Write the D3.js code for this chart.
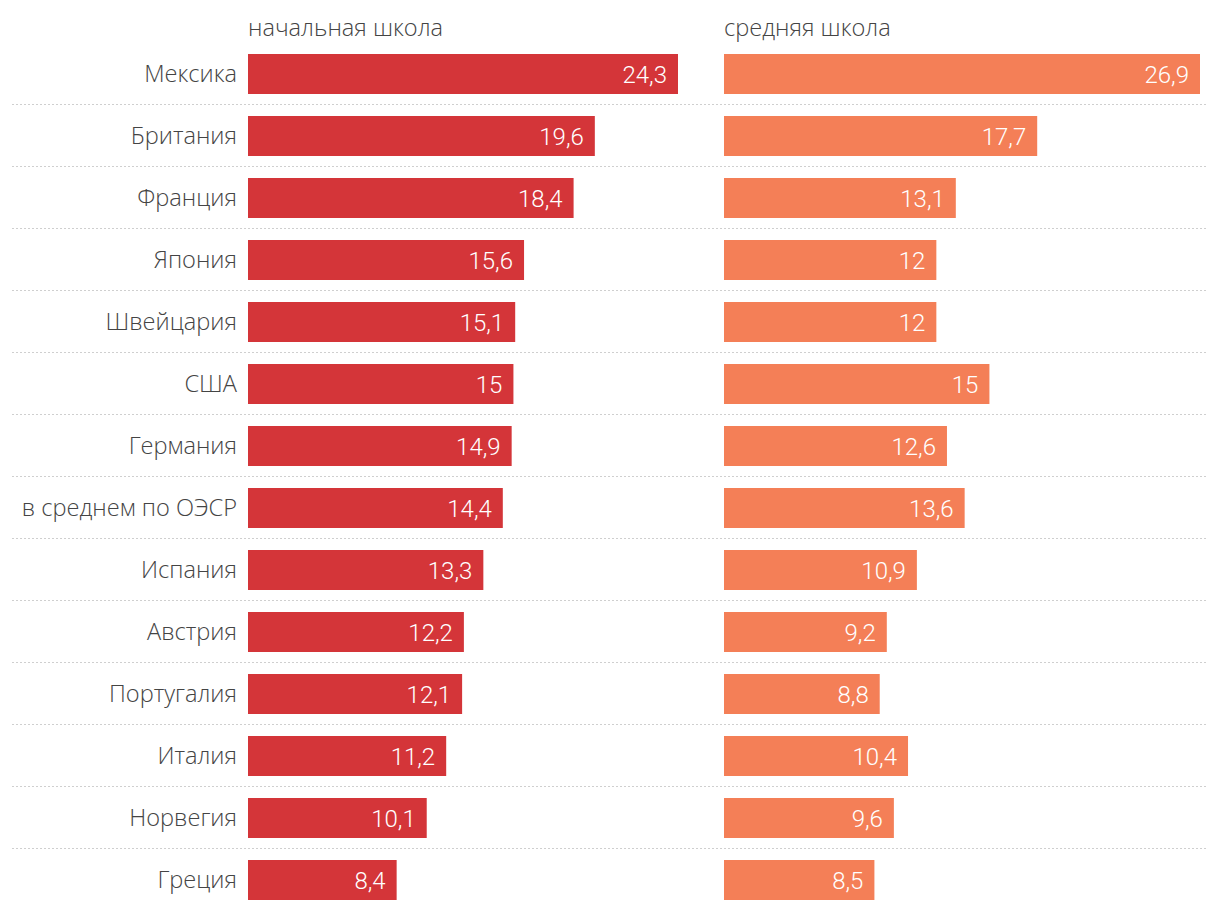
<!DOCTYPE html>
<html><head><meta charset="utf-8">
<script src="https://cdn.jsdelivr.net/npm/d3@7"></script>
<style>body{margin:0;background:#fff}</style>
</head><body>
<svg id="c" width="1220" height="910"></svg>
<script>
const countries = ["Мексика","Британия","Франция","Япония","Швейцария","США","Германия","в среднем по ОЭСР","Испания","Австрия","Португалия","Италия","Норвегия","Греция"];
const primary = [24.3,19.6,18.4,15.6,15.1,15,14.9,14.4,13.3,12.2,12.1,11.2,10.1,8.4];
const secondary = [26.9,17.7,13.1,12,12,15,12.6,13.6,10.9,9.2,8.8,10.4,9.6,8.5];
const seriesNames = ["начальная школа","средняя школа"];
const colors = ["#d43539","#f47f57"];

const svg = d3.select("#c");
const x = d3.scaleLinear().domain([0, 26.9]).range([0, 476]);
const y = d3.scaleBand().domain(countries).range([43, 911]).paddingInner(22/62).paddingOuter(11/62);
const panels = [{x0:248, vals:primary},{x0:724, vals:secondary}];
const fmt = v => String(v).replace(".", ",");

// separators
svg.append("g").selectAll("line").data(countries.slice(0,-1)).join("line")
  .attr("x1", 12).attr("x2", 1208)
  .attr("y1", d => y(d) + y.bandwidth() + 10.5)
  .attr("y2", d => y(d) + y.bandwidth() + 10.5)
  .attr("stroke", "#cfcfcf").attr("stroke-width", 1).attr("stroke-dasharray", "2,2");

// labels
svg.append("g").selectAll("text").data(countries).join("text")
  .attr("x", 237).attr("y", d => y(d) + y.bandwidth()/2)
  .attr("dy", "0.35em").attr("text-anchor", "end")
  .attr("font-family", "Open Sans").attr("font-weight", 300).attr("font-size", 23.6)
  .attr("fill", "#444").text(d => d);

panels.forEach((p, i) => {
  const g = svg.append("g").attr("transform", `translate(${p.x0},0)`);
  g.append("text").attr("x", 0).attr("y", 36)
    .attr("font-family", "Open Sans").attr("font-weight", 300).attr("font-size", 23.6)
    .attr("fill", "#444").text(seriesNames[i]);
  g.selectAll("rect").data(p.vals).join("rect")
    .attr("x", 0).attr("y", (d, j) => y(countries[j]))
    .attr("width", d => x(d)).attr("height", y.bandwidth())
    .attr("fill", colors[i]);
  g.selectAll("text.v").data(p.vals).join("text").attr("class","v")
    .attr("x", d => x(d) - 11).attr("y", (d, j) => y(countries[j]) + y.bandwidth()/2)
    .attr("dy", "0.36em").attr("text-anchor", "end")
    .attr("font-family", "Roboto").attr("font-weight", 300).attr("font-size", 24)
    .attr("fill", "#fff").text(d => fmt(d));
});
</script>
</body></html>
